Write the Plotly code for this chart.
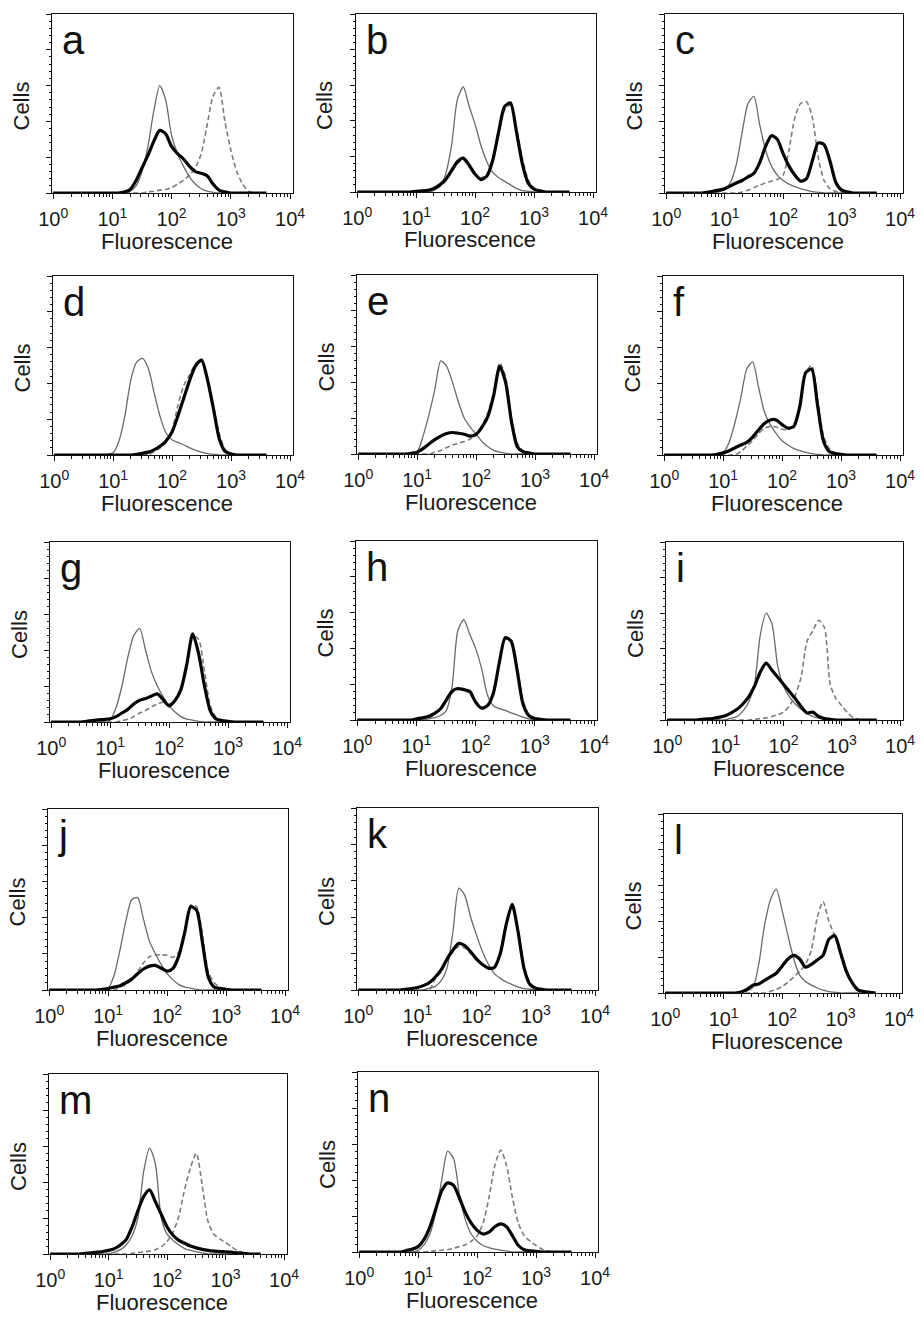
import plotly.graph_objects as go

# ---------------- data ----------------
# common fluorescence grid (log steps of 0.1 decade)
FLUORESCENCE = [1, 1.259, 1.585, 1.995, 2.512, 3.162, 3.981, 5.012, 6.310, 7.943,
                10, 12.59, 15.85, 19.95, 25.12, 31.62, 39.81, 50.12, 63.10, 79.43,
                100, 125.9, 158.5, 199.5, 251.2, 316.2, 398.1, 501.2, 631.0, 794.3,
                1000, 1259, 1585, 1995, 2512, 3162, 3981]

PANEL_LABELS = ["a", "b", "c", "d", "e", "f", "g", "h", "i", "j", "k", "l", "m", "n"]
X_TICK_VALUES = [1, 10, 100, 1000, 10000]
X_TICK_TEXT = ["10<sup>0</sup>", "10<sup>1</sup>", "10<sup>2</sup>", "10<sup>3</sup>", "10<sup>4</sup>"]
X_TITLE = "Fluorescence"
Y_TITLE = "Cells"

# each curve: (first grid index, values); cells in arbitrary units (axis top = 5)
CONTROL_A = (13, [0.05, 0.2, 0.6, 1.3, 2.3, 3.0, 2.6, 1.6, 1.1, 0.75, 0.45, 0.25, 0.12, 0.05, 0.02])
SAMPLE_A = (12, [0.03, 0.1, 0.35, 0.7, 1.05, 1.45, 1.75, 1.65, 1.3, 1.1, 0.95, 0.75, 0.6, 0.55, 0.48, 0.25, 0.08, 0.03])
DASHED_A = (16, [0.03, 0.05, 0.08, 0.1, 0.15, 0.25, 0.35, 0.5, 0.7, 1.1, 1.9, 2.7, 2.95, 2.0, 1.2, 0.6, 0.25, 0.05])

CONTROL_B = (13, [0.05, 0.15, 0.5, 1.3, 2.6, 2.95, 2.4, 1.9, 1.3, 0.85, 0.55, 0.4, 0.3, 0.2, 0.1, 0.04, 0.02])
SAMPLE_B = (10, [0.02, 0.03, 0.05, 0.1, 0.2, 0.35, 0.6, 0.85, 0.95, 0.75, 0.5, 0.35, 0.45, 0.9, 1.7, 2.4, 2.5, 1.7, 0.8, 0.25, 0.08, 0.03])
DASHED_B = (13, [0.05, 0.15, 0.3, 0.55, 0.8, 0.9, 0.7, 0.5, 0.4, 0.5, 0.9, 1.6, 2.3, 2.45, 1.8, 0.95, 0.35, 0.1, 0.03])

CONTROL_C = (9, [0.03, 0.1, 0.3, 0.8, 1.7, 2.5, 2.7, 1.9, 1.2, 0.75, 0.5, 0.35, 0.25, 0.18, 0.12, 0.08, 0.04, 0.02])
SAMPLE_C = (7, [0.02, 0.05, 0.08, 0.12, 0.2, 0.28, 0.35, 0.45, 0.55, 0.85, 1.3, 1.6, 1.5, 1.1, 0.75, 0.5, 0.33, 0.4, 0.9, 1.4, 1.35, 0.9, 0.3, 0.08, 0.03])
DASHED_C = (13, [0.03, 0.08, 0.15, 0.22, 0.28, 0.33, 0.38, 0.5, 1.2, 2.1, 2.5, 2.55, 2.1, 1.0, 0.35, 0.12, 0.04])

CONTROL_D = (9, [0.02, 0.06, 0.4, 1.1, 2.1, 2.6, 2.7, 2.4, 1.7, 1.05, 0.6, 0.42, 0.35, 0.28, 0.2, 0.13, 0.08, 0.04, 0.02])
SAMPLE_D = (14, [0.02, 0.05, 0.08, 0.15, 0.25, 0.4, 0.65, 1.1, 1.6, 2.1, 2.5, 2.65, 2.1, 1.3, 0.45, 0.1, 0.03])
DASHED_D = (17, [0.1, 0.2, 0.35, 0.7, 1.4, 1.95, 2.25, 2.55, 2.6, 2.15, 1.4, 0.6, 0.15, 0.04])

CONTROL_E = (9, [0.02, 0.05, 0.5, 1.1, 1.8, 2.6, 2.45, 2.0, 1.45, 1.0, 0.75, 0.55, 0.35, 0.2, 0.1, 0.05, 0.02])
SAMPLE_E = (9, [0.02, 0.05, 0.15, 0.28, 0.4, 0.5, 0.57, 0.6, 0.58, 0.55, 0.5, 0.55, 0.75, 1.05, 1.65, 2.45, 2.0, 0.9, 0.2, 0.06, 0.03])
DASHED_E = (13, [0.05, 0.1, 0.18, 0.25, 0.3, 0.35, 0.42, 0.55, 0.8, 1.15, 1.75, 2.55, 2.15, 1.0, 0.3, 0.08, 0.03])

CONTROL_F = (9, [0.02, 0.06, 0.35, 0.9, 1.6, 2.4, 2.6, 1.9, 1.2, 0.85, 0.6, 0.4, 0.28, 0.18, 0.12, 0.07, 0.04, 0.02])
SAMPLE_F = (9, [0.02, 0.06, 0.12, 0.2, 0.28, 0.35, 0.5, 0.7, 0.88, 0.98, 0.98, 0.85, 0.75, 0.8, 1.35, 2.3, 2.4, 1.4, 0.4, 0.1, 0.04, 0.02])
DASHED_F = (13, [0.1, 0.25, 0.4, 0.6, 0.75, 0.8, 0.78, 0.72, 0.7, 0.85, 1.4, 2.3, 2.5, 1.6, 0.55, 0.18, 0.06, 0.02])

CONTROL_G = (9, [0.02, 0.05, 0.4, 1.0, 1.8, 2.4, 2.6, 2.0, 1.4, 1.0, 0.7, 0.45, 0.28, 0.15, 0.08, 0.05, 0.02])
SAMPLE_G = (6, [0.02, 0.04, 0.06, 0.07, 0.09, 0.15, 0.25, 0.35, 0.5, 0.6, 0.65, 0.72, 0.78, 0.62, 0.45, 0.6, 0.9, 1.6, 2.45, 1.9, 1.0, 0.3, 0.08, 0.04, 0.02])
DASHED_G = (12, [0.04, 0.08, 0.15, 0.25, 0.32, 0.42, 0.5, 0.55, 0.5, 0.6, 0.95, 1.6, 2.4, 2.3, 1.4, 0.45, 0.12, 0.04])

CONTROL_H = (12, [0.03, 0.06, 0.12, 0.25, 0.9, 2.5, 2.8, 2.4, 2.0, 1.45, 0.7, 0.4, 0.32, 0.27, 0.2, 0.14, 0.08, 0.03])
SAMPLE_H = (10, [0.03, 0.06, 0.1, 0.18, 0.3, 0.55, 0.8, 0.88, 0.85, 0.8, 0.5, 0.33, 0.4, 0.75, 1.6, 2.3, 2.2, 1.4, 0.45, 0.12, 0.04, 0.02])
DASHED_H = (12, [0.05, 0.15, 0.28, 0.5, 0.75, 0.85, 0.82, 0.75, 0.5, 0.35, 0.42, 0.8, 1.6, 2.25, 2.2, 1.5, 0.55, 0.15, 0.04])

CONTROL_I = (11, [0.05, 0.1, 0.25, 0.5, 1.0, 2.4, 3.0, 2.7, 1.5, 0.95, 0.65, 0.45, 0.3, 0.18, 0.1, 0.05, 0.02])
SAMPLE_I = (6, [0.02, 0.03, 0.05, 0.08, 0.12, 0.2, 0.3, 0.45, 0.65, 0.95, 1.35, 1.6, 1.4, 1.2, 1.0, 0.8, 0.6, 0.38, 0.2, 0.22, 0.1, 0.04, 0.02])
DASHED_I = (15, [0.02, 0.04, 0.06, 0.1, 0.15, 0.22, 0.4, 0.7, 1.2, 2.2, 2.5, 2.8, 2.6, 1.0, 0.6, 0.4, 0.2, 0.06, 0.02])

CONTROL_J = (9, [0.02, 0.05, 0.4, 1.1, 1.9, 2.5, 2.55, 1.95, 1.35, 1.0, 0.7, 0.45, 0.28, 0.15, 0.08, 0.05, 0.02])
SAMPLE_J = (9, [0.02, 0.04, 0.08, 0.12, 0.2, 0.3, 0.45, 0.58, 0.66, 0.68, 0.6, 0.52, 0.6, 0.95, 1.6, 2.3, 2.2, 1.3, 0.35, 0.08, 0.04, 0.02])
DASHED_J = (12, [0.08, 0.15, 0.3, 0.5, 0.75, 0.92, 0.97, 0.97, 0.96, 0.9, 1.05, 1.65, 2.35, 2.3, 1.5, 0.5, 0.2, 0.08, 0.04])

CONTROL_K = (12, [0.05, 0.1, 0.25, 0.6, 1.6, 2.8, 2.6, 2.0, 1.5, 1.05, 0.7, 0.45, 0.32, 0.22, 0.15, 0.08, 0.04, 0.02])
SAMPLE_K = (8, [0.02, 0.04, 0.07, 0.12, 0.2, 0.35, 0.55, 0.85, 1.1, 1.28, 1.22, 1.05, 0.85, 0.7, 0.6, 0.62, 1.0, 1.8, 2.35, 1.6, 0.6, 0.15, 0.05, 0.02])
DASHED_K = (13, [0.3, 0.5, 0.8, 1.05, 1.2, 1.15, 1.0, 0.82, 0.68, 0.6, 0.65, 1.05, 1.85, 2.3, 1.65, 0.65, 0.2, 0.05])

CONTROL_L = (13, [0.03, 0.06, 0.15, 0.8, 1.9, 2.6, 2.9, 2.3, 1.6, 0.95, 0.5, 0.32, 0.22, 0.14, 0.08, 0.04, 0.02])
SAMPLE_L = (13, [0.03, 0.1, 0.22, 0.25, 0.35, 0.45, 0.55, 0.75, 0.95, 1.05, 0.95, 0.72, 0.8, 0.92, 1.05, 1.5, 1.6, 1.12, 0.6, 0.28, 0.08, 0.04, 0.02])
DASHED_L = (18, [0.05, 0.1, 0.18, 0.3, 0.45, 0.6, 0.8, 1.2, 2.1, 2.55, 2.0, 1.6, 1.05, 0.55, 0.25, 0.07, 0.02])

CONTROL_M = (11, [0.05, 0.12, 0.25, 0.5, 1.0, 2.3, 2.95, 2.5, 1.0, 0.55, 0.38, 0.25, 0.15, 0.1, 0.06, 0.03])
SAMPLE_M = (6, [0.02, 0.03, 0.05, 0.07, 0.1, 0.15, 0.25, 0.4, 0.75, 1.2, 1.6, 1.78, 1.45, 1.1, 0.75, 0.52, 0.38, 0.3, 0.22, 0.17, 0.13, 0.1, 0.08, 0.07, 0.06, 0.05, 0.03, 0.02])
DASHED_M = (14, [0.02, 0.04, 0.06, 0.08, 0.12, 0.2, 0.35, 0.6, 1.05, 1.8, 2.4, 2.8, 1.9, 0.9, 0.55, 0.42, 0.32, 0.2, 0.1, 0.04, 0.02])

CONTROL_N = (10, [0.05, 0.2, 0.5, 1.1, 2.0, 2.8, 2.6, 1.6, 0.9, 0.5, 0.3, 0.18, 0.12, 0.08, 0.05, 0.03])
SAMPLE_N = (8, [0.04, 0.08, 0.15, 0.35, 0.7, 1.2, 1.7, 1.92, 1.85, 1.5, 1.1, 0.8, 0.6, 0.5, 0.55, 0.7, 0.78, 0.7, 0.45, 0.18, 0.06, 0.03, 0.02])
DASHED_N = (12, [0.02, 0.03, 0.05, 0.07, 0.1, 0.15, 0.2, 0.3, 0.45, 0.8, 1.5, 2.4, 2.83, 2.4, 1.5, 0.8, 0.45, 0.3, 0.18, 0.08, 0.03])

CONTROLS = [CONTROL_A, CONTROL_B, CONTROL_C, CONTROL_D, CONTROL_E, CONTROL_F, CONTROL_G,
            CONTROL_H, CONTROL_I, CONTROL_J, CONTROL_K, CONTROL_L, CONTROL_M, CONTROL_N]
SAMPLES = [SAMPLE_A, SAMPLE_B, SAMPLE_C, SAMPLE_D, SAMPLE_E, SAMPLE_F, SAMPLE_G,
           SAMPLE_H, SAMPLE_I, SAMPLE_J, SAMPLE_K, SAMPLE_L, SAMPLE_M, SAMPLE_N]
DASHEDS = [DASHED_A, DASHED_B, DASHED_C, DASHED_D, DASHED_E, DASHED_F, DASHED_G,
           DASHED_H, DASHED_I, DASHED_J, DASHED_K, DASHED_L, DASHED_M, DASHED_N]

# ---------------- layout (pixel boxes of each panel: left, top, right, bottom) ----------------
W, H = 924, 1321
BOXES = [
    (52, 14, 293, 193), (356, 14, 596, 192), (665, 14, 903, 193),
    (53, 276, 293, 455), (357, 275, 597, 454), (663, 276, 903, 455),
    (50, 542, 290, 722), (356, 541, 597, 720), (666, 542, 903, 720),
    (48, 809, 288, 990), (357, 808, 598, 990), (664, 814, 902, 993),
    (49, 1074, 287, 1254), (358, 1072, 598, 1252),
]

FONT = "Arial, 'Liberation Sans', sans-serif"
TXT = "#1a1a1a"


def expand(curve):
    start, vals = curve
    full = [0.0] * len(FLUORESCENCE)
    for k, v in enumerate(vals):
        full[start + k] = v
    return full


fig = go.Figure()
annotations = []
minor_x = [m * 10 ** d for d in range(4) for m in range(2, 10)]

for i, lab in enumerate(PANEL_LABELS):
    n = "" if i == 0 else str(i + 1)
    xa, ya = "x" + n, "y" + n
    l, t, r, b = BOXES[i]
    fig.add_trace(go.Scatter(x=FLUORESCENCE, y=expand(DASHEDS[i]), xaxis=xa, yaxis=ya,
                             mode="lines", line=dict(color="#7c7c7c", width=1.6, dash="5px,3px",
                                                     shape="spline", smoothing=0.7),
                             showlegend=False, hoverinfo="skip"))
    fig.add_trace(go.Scatter(x=FLUORESCENCE, y=expand(CONTROLS[i]), xaxis=xa, yaxis=ya,
                             mode="lines", line=dict(color="#6a6a6a", width=1.3,
                                                     shape="spline", smoothing=0.7),
                             showlegend=False, hoverinfo="skip"))
    fig.add_trace(go.Scatter(x=FLUORESCENCE, y=expand(SAMPLES[i]), xaxis=xa, yaxis=ya,
                             mode="lines", line=dict(color="#050505", width=3.2,
                                                     shape="spline", smoothing=0.7),
                             showlegend=False, hoverinfo="skip"))

    fig.layout["xaxis" + n] = dict(
        type="log", range=[-0.02, 4.05], domain=[l / W, r / W], anchor=ya,
        automargin=False,
        tickmode="array", tickvals=X_TICK_VALUES, ticktext=X_TICK_TEXT,
        ticks="outside", ticklen=5, tickwidth=1, tickcolor="#111",
        ticklabelstandoff=3,
        showline=True, linecolor="#111", linewidth=1, mirror=True,
        showgrid=False, zeroline=False,
        tickfont=dict(family=FONT, size=20, color=TXT),
        minor=dict(ticks="outside", ticklen=3, tickwidth=1, tickcolor="#111",
                   tickmode="array", tickvals=minor_x, showgrid=False),
    )
    fig.layout["yaxis" + n] = dict(
        range=[0, 5], domain=[1 - b / H, 1 - t / H], anchor=xa,
        automargin=False,
        tickmode="array", tickvals=[0, 1, 2, 3, 4, 5], showticklabels=False,
        ticks="outside", ticklen=5, tickwidth=1, tickcolor="#111",
        showline=True, linecolor="#111", linewidth=1, mirror=True,
        showgrid=False, zeroline=False,
        minor=dict(ticks="outside", ticklen=2.5, tickwidth=1, tickcolor="#111",
                   dtick=0.2, showgrid=False),
    )
    # panel letter
    annotations.append(dict(text=lab, x=(l + 8) / W, y=1 - (t + 2) / H, xref="paper", yref="paper",
                            xanchor="left", yanchor="top", showarrow=False,
                            font=dict(family=FONT, size=40, color="#111")))
    # axis titles
    annotations.append(dict(text=Y_TITLE, x=(l - 31) / W, y=1 - ((t + b) / 2 + 3) / H,
                            xref="paper", yref="paper", xanchor="center", yanchor="middle",
                            textangle=-90, showarrow=False,
                            font=dict(family=FONT, size=22, color=TXT)))
    annotations.append(dict(text=X_TITLE, x=((l + r) / 2 - 6) / W, y=1 - (b + 48) / H,
                            xref="paper", yref="paper", xanchor="center", yanchor="middle",
                            showarrow=False, font=dict(family=FONT, size=22, color=TXT)))

fig.update_layout(width=W, height=H,
                  margin=dict(l=0, r=0, t=0, b=0, pad=0, autoexpand=False),
                  paper_bgcolor="white", plot_bgcolor="white",
                  annotations=annotations, font=dict(family=FONT))

fig.write_html("out.html", config={"displayModeBar": False},
               post_script="document.body.style.margin='0';")
